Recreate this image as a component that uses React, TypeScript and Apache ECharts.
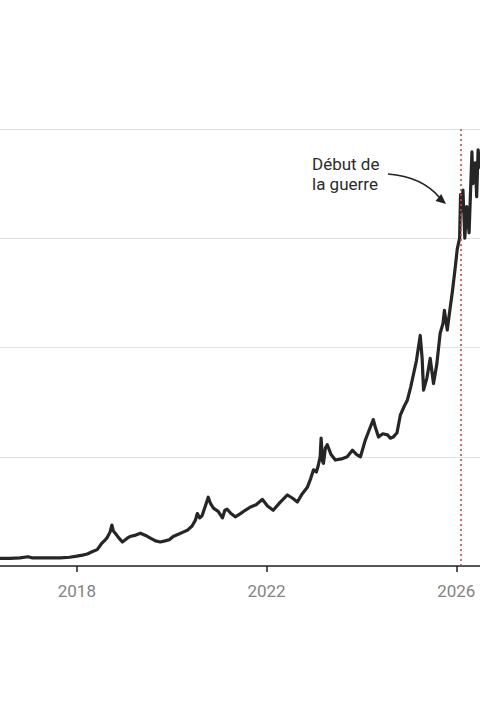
import React, { useEffect, useRef } from "react";
import * as echarts from "echarts";

// Decimal years and index values
const years = [
  2016.38, 2016.59, 2016.8, 2016.97, 2017.05, 2017.23, 2017.45, 2017.65, 2017.85, 2018.0,
  2018.12, 2018.22, 2018.32, 2018.43, 2018.53, 2018.6, 2018.64, 2018.7, 2018.74, 2018.77,
  2018.81, 2018.88, 2018.96, 2019.05, 2019.12, 2019.22, 2019.34, 2019.45, 2019.55, 2019.66,
  2019.76, 2019.86, 2019.95, 2020.03, 2020.14, 2020.24, 2020.34, 2020.43, 2020.5, 2020.54,
  2020.59, 2020.64, 2020.71, 2020.77, 2020.82, 2020.88, 2020.98, 2021.07, 2021.12, 2021.17,
  2021.25, 2021.34, 2021.45, 2021.55, 2021.66, 2021.78, 2021.91, 2022.02, 2022.14, 2022.28,
  2022.44, 2022.55, 2022.65, 2022.75, 2022.86, 2022.93, 2022.99, 2023.05, 2023.09, 2023.13,
  2023.15, 2023.18, 2023.2, 2023.24, 2023.28, 2023.36, 2023.45, 2023.58, 2023.7, 2023.81,
  2023.9, 2023.98, 2024.08, 2024.16, 2024.25, 2024.3, 2024.36, 2024.45, 2024.55, 2024.61,
  2024.67, 2024.75, 2024.82, 2024.9, 2024.97, 2025.04, 2025.1, 2025.16, 2025.24, 2025.28,
  2025.31, 2025.38, 2025.45, 2025.52, 2025.59, 2025.66, 2025.72, 2025.75, 2025.81, 2025.87,
  2025.92, 2025.98, 2026.02, 2026.07, 2026.09, 2026.12, 2026.14, 2026.18, 2026.22, 2026.27,
  2026.33, 2026.35, 2026.4, 2026.43, 2026.46, 2026.5, 2026.52,
];
const values = [
  7, 7, 7.5, 8.5, 7.5, 7.5, 7.5, 7.5, 8, 9,
  10, 11, 13, 15, 21, 24, 26, 31, 37.5, 32,
  30, 26, 22, 25, 27, 28, 30, 28, 25.6, 23,
  22, 23, 24, 27, 29, 31, 33, 36.6, 42, 48,
  44, 46, 55, 63, 57, 53, 50, 44, 51, 52,
  48, 45, 48, 51, 54, 56, 61, 55, 51, 58,
  65, 62, 58.6, 66, 72, 80, 88, 86, 92, 100,
  117, 96, 94, 108, 111, 102, 97, 98, 100, 106,
  102, 100, 115, 124, 134, 126, 118, 121, 120, 117,
  118, 122, 138, 146, 152, 164, 176, 188, 211, 190,
  161, 172, 190, 167, 185, 213, 222, 234, 216, 236,
  252, 274, 290, 300, 340, 325, 344, 300, 329, 305,
  379, 350, 369, 338, 381, 365, 372,
];
const tickYears = [2018, 2022, 2026];
const warStart = 2026.09;
const annotationLines = ["Début de", "la guerre"];

export default function App() {
  const ref = useRef<HTMLDivElement>(null);
  useEffect(() => {
    if (!ref.current) return;
    const chart = echarts.init(ref.current, undefined, { renderer: "svg" });
    const data = years.map((y, i) => [y, values[i]]);
    chart.setOption({
      animation: false,
      backgroundColor: "#ffffff",
      textStyle: { fontFamily: "Roboto" },
      grid: { left: 0, right: 0, top: 129, bottom: 154, containLabel: false },
      xAxis: {
        type: "value",
        min: 2016.38,
        max: 2026.5,
        splitLine: { show: false },
        axisLine: { show: true, onZero: false, lineStyle: { color: "#222222", width: 1.5 } },
        axisTick: { show: true, customValues: tickYears, length: 6, lineStyle: { color: "#222222", width: 1.5 } },
        axisLabel: {
          show: true,
          customValues: tickYears,
          formatter: (v: number) => String(Math.round(v)),
          color: "#838383",
          fontSize: 17,
          margin: 16,
          fontFamily: "Roboto",
        },
      },
      yAxis: {
        type: "value",
        min: 0,
        max: 400,
        interval: 100,
        axisLine: { show: false },
        axisTick: { show: false },
        axisLabel: { show: false },
        splitLine: { show: true, lineStyle: { color: "#e3e3e3", width: 1 } },
      },
      series: [
        {
          type: "line",
          data,
          showSymbol: false,
          symbol: "none",
          lineStyle: { color: "#262626", width: 3.2, join: "round" },
          z: 3,
          markLine: {
            silent: true,
            symbol: ["none", "none"],
            label: { show: false },
            lineStyle: { color: "#c9484a", type: [2, 3], width: 1.6 },
            data: [{ xAxis: warStart }],
            z: 4,
          },
        },
      ],
      graphic: [
        {
          type: "text",
          left: 312,
          top: 154,
          style: {
            text: annotationLines.join("\n"),
            font: "17px Roboto",
            fill: "#2b2b2b",
            lineHeight: 20,
          },
        },
        {
          type: "bezierCurve",
          shape: { x1: 388, y1: 174, cpx1: 414, cpy1: 176, cpx2: 430, cpy2: 186, x2: 440, y2: 198 },
          style: { stroke: "#222222", lineWidth: 1.7, fill: "none" },
        },
        {
          type: "polygon",
          shape: { points: [[446, 204], [435.5, 200.9], [441.3, 194.1]] },
          style: { fill: "#222222" },
        },
      ],
    });
    return () => chart.dispose();
  }, []);
  return (
    <div
      ref={ref}
      style={{ position: "fixed", left: 0, top: 0, width: 480, height: 720, background: "#fff" }}
    />
  );
}
